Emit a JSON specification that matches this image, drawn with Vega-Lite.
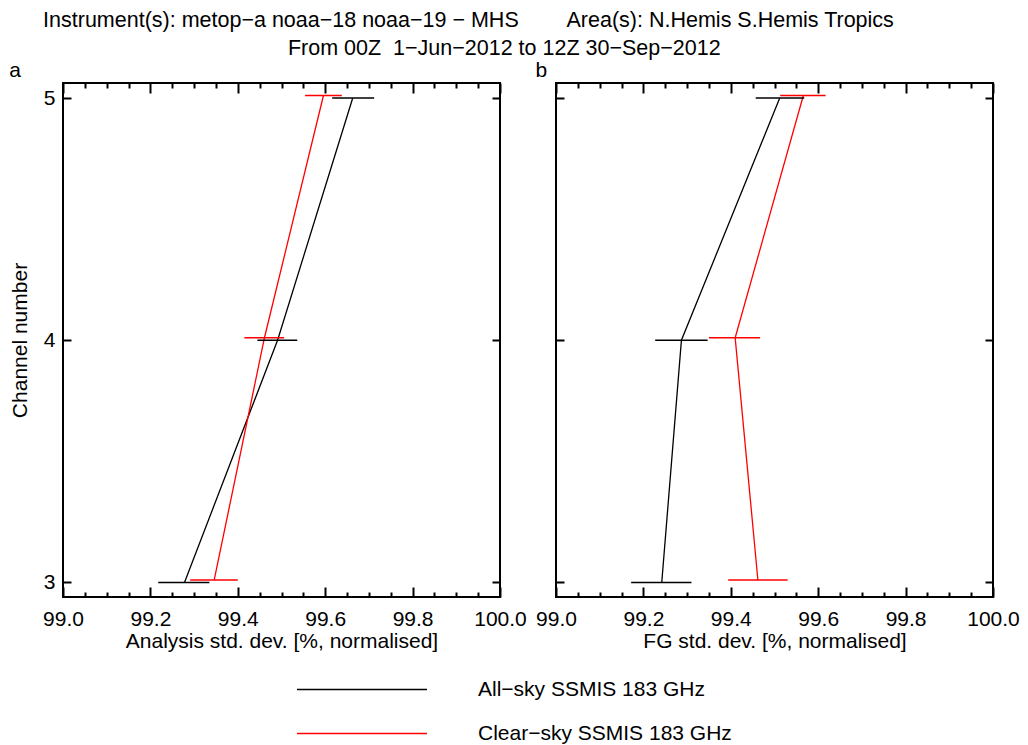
{
  "$schema": "https://vega.github.io/schema/vega-lite/v6.json",
  "background": "white",
  "padding": {"left": 8, "top": 9, "right": 10, "bottom": 5},
  "title": {
    "text": ["Instrument(s): metop−a noaa−18 noaa−19 − MHS\u00a0\u00a0\u00a0\u00a0\u00a0\u00a0\u00a0\u00a0Area(s): N.Hemis S.Hemis Tropics\u00a0\u00a0\u00a0\u00a0\u00a0\u00a0\u00a0\u00a0\u00a0\u00a0\u00a0\u00a0\u200b", "From 00Z\u00a0\u00a01−Jun−2012 to 12Z 30−Sep−2012"],
    "anchor": "middle", "dx": -10, "fontSize": 21.5, "fontWeight": "normal", "font": "Liberation Sans", "lineHeight": 28, "offset": 0, "color": "black"
  },
  "data": {"values": [
    {"panel": "Analysis", "series": "All−sky SSMIS 183 GHz", "channel": 5, "value": 99.663, "lo": 99.616, "hi": 99.712},
    {"panel": "Analysis", "series": "All−sky SSMIS 183 GHz", "channel": 4, "value": 99.491, "lo": 99.445, "hi": 99.536},
    {"panel": "Analysis", "series": "All−sky SSMIS 183 GHz", "channel": 3, "value": 99.278, "lo": 99.218, "hi": 99.335},
    {"panel": "Analysis", "series": "Clear−sky SSMIS 183 GHz", "channel": 5, "value": 99.596, "lo": 99.554, "hi": 99.638},
    {"panel": "Analysis", "series": "Clear−sky SSMIS 183 GHz", "channel": 4, "value": 99.461, "lo": 99.415, "hi": 99.506},
    {"panel": "Analysis", "series": "Clear−sky SSMIS 183 GHz", "channel": 3, "value": 99.346, "lo": 99.291, "hi": 99.400},
    {"panel": "FG", "series": "All−sky SSMIS 183 GHz", "channel": 5, "value": 99.512, "lo": 99.457, "hi": 99.568},
    {"panel": "FG", "series": "All−sky SSMIS 183 GHz", "channel": 4, "value": 99.287, "lo": 99.227, "hi": 99.347},
    {"panel": "FG", "series": "All−sky SSMIS 183 GHz", "channel": 3, "value": 99.242, "lo": 99.172, "hi": 99.310},
    {"panel": "FG", "series": "Clear−sky SSMIS 183 GHz", "channel": 5, "value": 99.566, "lo": 99.513, "hi": 99.617},
    {"panel": "FG", "series": "Clear−sky SSMIS 183 GHz", "channel": 4, "value": 99.410, "lo": 99.350, "hi": 99.467},
    {"panel": "FG", "series": "Clear−sky SSMIS 183 GHz", "channel": 3, "value": 99.462, "lo": 99.394, "hi": 99.530}
  ]},
  "spacing": 56,
  "bounds": "flush",
  "hconcat": [
    {
      "width": 437, "height": 514,
      "title": {"text": "a", "anchor": "start", "fontSize": 21, "fontWeight": "normal", "offset": 1, "color": "black"},
      "transform": [{"filter": {"field": "panel", "equal": "Analysis"}}],
      "resolve": {"axis": {"x": "independent", "y": "independent"}},
      "layer": [
        {
          "transform": [{"filter": {"field": "series", "equal": "All−sky SSMIS 183 GHz"}}],
          "mark": {"type": "line", "strokeWidth": 1.3},
          "encoding": {
            "x": {"field": "value", "type": "quantitative", "scale": {"domain": [99, 100], "nice": false, "zero": false},
                  "axis": {"orient": "bottom", "values": [99, 99.2, 99.4, 99.6, 99.8, 100], "format": ".1f", "ticks": false, "labelPadding": 11, "title": "Analysis std. dev. [%, normalised]", "titlePadding": 1}},
            "y": {"field": "channel", "type": "quantitative", "scale": {"domain": [2.94, 5.062], "nice": false, "zero": false},
                  "axis": {"orient": "left", "values": [3, 4, 5], "format": "d", "ticks": false, "labelPadding": 8, "title": "Channel number", "titlePadding": 13}},
            "color": {"field": "series", "type": "nominal",
                      "scale": {"domain": ["All−sky SSMIS 183 GHz", "Clear−sky SSMIS 183 GHz"], "range": ["#000000", "#ff0000"]},
                      "legend": {"orient": "none", "legendX": 233, "legendY": 596, "title": null, "direction": "vertical"}},
            "order": {"field": "channel", "type": "quantitative"}
          }
        },
        {
          "transform": [{"filter": {"field": "series", "equal": "Clear−sky SSMIS 183 GHz"}}],
          "mark": {"type": "line", "strokeWidth": 1.3, "yOffset": -2.5},
          "encoding": {
            "x": {"field": "value", "type": "quantitative", "scale": {"domain": [99, 100], "nice": false, "zero": false},
                  "axis": {"orient": "bottom", "values": [99, 99.2, 99.4, 99.6, 99.8, 100], "labels": false, "tickSize": -10, "title": null}},
            "y": {"field": "channel", "type": "quantitative", "scale": {"domain": [2.94, 5.062], "nice": false, "zero": false},
                  "axis": {"orient": "left", "values": [3, 4, 5], "labels": false, "tickSize": -8, "title": null}},
            "color": {"field": "series", "type": "nominal",
                      "scale": {"domain": ["All−sky SSMIS 183 GHz", "Clear−sky SSMIS 183 GHz"], "range": ["#000000", "#ff0000"]},
                      "legend": {"orient": "none", "legendX": 233, "legendY": 596, "title": null, "direction": "vertical"}},
            "order": {"field": "channel", "type": "quantitative"}
          }
        },
        {
          "transform": [{"filter": {"field": "series", "equal": "All−sky SSMIS 183 GHz"}}],
          "mark": {"type": "rule", "strokeWidth": 1.5, "color": "#000000"},
          "encoding": {
            "x": {"field": "lo", "type": "quantitative", "scale": {"domain": [99, 100], "nice": false, "zero": false},
                  "axis": {"orient": "bottom", "values": [99.05, 99.1, 99.15, 99.25, 99.3, 99.35, 99.45, 99.5, 99.55, 99.65, 99.7, 99.75, 99.85, 99.9, 99.95], "labels": false, "tickSize": -5, "title": null}},
            "x2": {"field": "hi"},
            "y": {"field": "channel", "type": "quantitative", "scale": {"domain": [2.94, 5.062], "nice": false, "zero": false},
                  "axis": {"orient": "right", "values": [3, 4, 5], "labels": false, "tickSize": -8, "title": null}}
          }
        },
        {
          "transform": [{"filter": {"field": "series", "equal": "Clear−sky SSMIS 183 GHz"}}],
          "mark": {"type": "rule", "strokeWidth": 1.5, "color": "#ff0000", "yOffset": -2.5},
          "encoding": {
            "x": {"field": "lo", "type": "quantitative", "scale": {"domain": [99, 100], "nice": false, "zero": false},
                  "axis": {"orient": "top", "values": [99, 99.2, 99.4, 99.6, 99.8, 100], "labels": false, "tickSize": -10, "title": null}},
            "x2": {"field": "hi"},
            "y": {"field": "channel", "type": "quantitative", "scale": {"domain": [2.94, 5.062], "nice": false, "zero": false}, "axis": null}
          }
        },
        {
          "mark": {"type": "point", "opacity": 0},
          "encoding": {
            "x": {"field": "value", "type": "quantitative", "scale": {"domain": [99, 100], "nice": false, "zero": false},
                  "axis": {"orient": "top", "values": [99.05, 99.1, 99.15, 99.25, 99.3, 99.35, 99.45, 99.5, 99.55, 99.65, 99.7, 99.75, 99.85, 99.9, 99.95], "labels": false, "tickSize": -5, "title": null}},
            "y": {"field": "channel", "type": "quantitative", "scale": {"domain": [2.94, 5.062], "nice": false, "zero": false}, "axis": null}
          }
        }
      ]
    },
    {
      "width": 437, "height": 514,
      "title": {"text": "b", "anchor": "start", "fontSize": 21, "fontWeight": "normal", "offset": 1, "color": "black"},
      "transform": [{"filter": {"field": "panel", "equal": "FG"}}],
      "resolve": {"axis": {"x": "independent", "y": "independent"}},
      "layer": [
        {
          "transform": [{"filter": {"field": "series", "equal": "All−sky SSMIS 183 GHz"}}],
          "mark": {"type": "line", "strokeWidth": 1.3, "color": "#000000"},
          "encoding": {
            "x": {"field": "value", "type": "quantitative", "scale": {"domain": [99, 100], "nice": false, "zero": false},
                  "axis": {"orient": "bottom", "values": [99, 99.2, 99.4, 99.6, 99.8, 100], "format": ".1f", "ticks": false, "labelPadding": 11, "title": "FG std. dev. [%, normalised]", "titlePadding": 1}},
            "y": {"field": "channel", "type": "quantitative", "scale": {"domain": [2.94, 5.062], "nice": false, "zero": false},
                  "axis": {"orient": "left", "values": [3, 4, 5], "labels": false, "tickSize": -8, "title": null}},
            "order": {"field": "channel", "type": "quantitative"}
          }
        },
        {
          "transform": [{"filter": {"field": "series", "equal": "Clear−sky SSMIS 183 GHz"}}],
          "mark": {"type": "line", "strokeWidth": 1.3, "color": "#ff0000", "yOffset": -2.5},
          "encoding": {
            "x": {"field": "value", "type": "quantitative", "scale": {"domain": [99, 100], "nice": false, "zero": false},
                  "axis": {"orient": "bottom", "values": [99, 99.2, 99.4, 99.6, 99.8, 100], "labels": false, "tickSize": -10, "title": null}},
            "y": {"field": "channel", "type": "quantitative", "scale": {"domain": [2.94, 5.062], "nice": false, "zero": false},
                  "axis": {"orient": "right", "values": [3, 4, 5], "labels": false, "tickSize": -8, "title": null}},
            "order": {"field": "channel", "type": "quantitative"}
          }
        },
        {
          "transform": [{"filter": {"field": "series", "equal": "All−sky SSMIS 183 GHz"}}],
          "mark": {"type": "rule", "strokeWidth": 1.5, "color": "#000000"},
          "encoding": {
            "x": {"field": "lo", "type": "quantitative", "scale": {"domain": [99, 100], "nice": false, "zero": false},
                  "axis": {"orient": "bottom", "values": [99.05, 99.1, 99.15, 99.25, 99.3, 99.35, 99.45, 99.5, 99.55, 99.65, 99.7, 99.75, 99.85, 99.9, 99.95], "labels": false, "tickSize": -5, "title": null}},
            "x2": {"field": "hi"},
            "y": {"field": "channel", "type": "quantitative", "scale": {"domain": [2.94, 5.062], "nice": false, "zero": false}, "axis": null}
          }
        },
        {
          "transform": [{"filter": {"field": "series", "equal": "Clear−sky SSMIS 183 GHz"}}],
          "mark": {"type": "rule", "strokeWidth": 1.5, "color": "#ff0000", "yOffset": -2.5},
          "encoding": {
            "x": {"field": "lo", "type": "quantitative", "scale": {"domain": [99, 100], "nice": false, "zero": false},
                  "axis": {"orient": "top", "values": [99, 99.2, 99.4, 99.6, 99.8, 100], "labels": false, "tickSize": -10, "title": null}},
            "x2": {"field": "hi"},
            "y": {"field": "channel", "type": "quantitative", "scale": {"domain": [2.94, 5.062], "nice": false, "zero": false}, "axis": null}
          }
        },
        {
          "mark": {"type": "point", "opacity": 0},
          "encoding": {
            "x": {"field": "value", "type": "quantitative", "scale": {"domain": [99, 100], "nice": false, "zero": false},
                  "axis": {"orient": "top", "values": [99.05, 99.1, 99.15, 99.25, 99.3, 99.35, 99.45, 99.5, 99.55, 99.65, 99.7, 99.75, 99.85, 99.9, 99.95], "labels": false, "tickSize": -5, "title": null}},
            "y": {"field": "channel", "type": "quantitative", "scale": {"domain": [2.94, 5.062], "nice": false, "zero": false}, "axis": null}
          }
        }
      ]
    }
  ],
  "config": {
    "font": "Liberation Sans",
    "view": {"stroke": "black", "strokeWidth": 2},
    "axis": {"domain": false, "grid": false, "labelFont": "Liberation Sans", "labelFontSize": 21, "labelColor": "black",
             "titleFont": "Liberation Sans", "titleFontSize": 21, "titleFontWeight": "normal", "titleColor": "black",
             "tickColor": "black", "tickWidth": 2, "labelFlush": false, "labelOverlap": false},
    "legend": {"symbolType": "stroke", "symbolSize": 16900, "symbolStrokeWidth": 1.5, "labelFont": "Liberation Sans", "labelFontSize": 21,
               "labelColor": "black", "labelOffset": 50, "rowPadding": 22, "padding": 0, "labelLimit": 0, "clipHeight": 21}
  }
}
